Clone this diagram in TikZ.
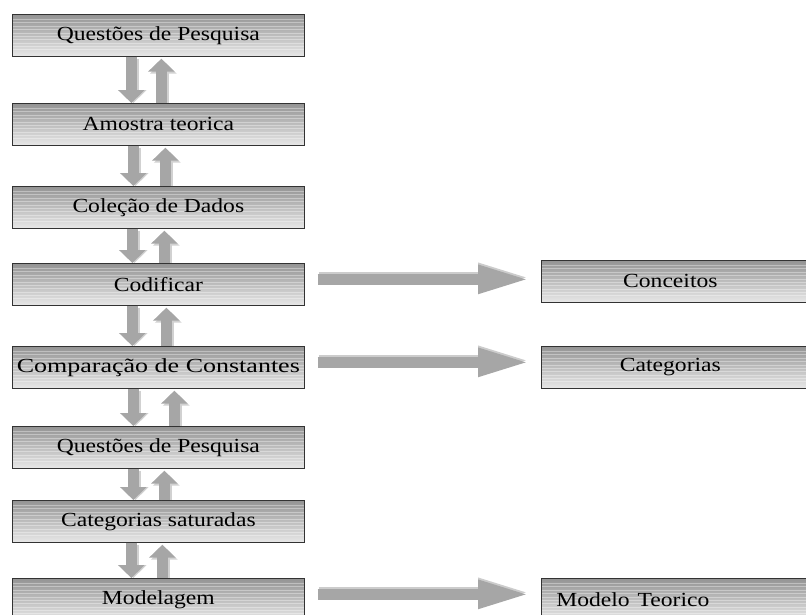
\documentclass[tikz,border=0pt]{standalone}
\usepackage{fontspec}
\setmainfont{Liberation Serif}
\usetikzlibrary{positioning,calc,arrows.meta}
\newcommand{\wtxt}[1]{\scalebox{1.18}[1]{#1}}
% pair of block arrows between two boxes of the left column
\newcommand{\updown}[4]{
  \draw[ashadow] ($(#1.south)+(#3+2,2)$) -- ($(#2.north)+(#3+2,0)$);
  \draw[varrow] ($(#1.south)+(#3,0)$) -- ($(#2.north)+(#3,0)$);
  \draw[ashadow] ($(#2.north)+(#4+2,0)$) -- ($(#1.south)+(#4+2,4)$);
  \draw[varrow] ($(#2.north)+(#4,0)$) -- ($(#1.south)+(#4,2)$);
}
% wide arrow to the right column
\newcommand{\sidearrow}[2]{
  \draw[harrow, draw=black!20, shorten <=14pt, shorten >=11pt] ($(#1.east)+(0,-7)$) -- ($(#1.east -| #2.west)+(0,-7)$);
  \draw[harrow, shorten <=13pt, shorten >=11pt] ($(#1.east)+(0,-5)$) -- ($(#1.east -| #2.west)+(0,-5)$);
}

\begin{document}
\begin{tikzpicture}[x=1pt, y=-1pt,
  box/.style={draw=black!80, line width=0.7pt, anchor=north west,
    minimum width=292pt, minimum height=42pt, inner sep=0pt,
    top color=black!42, bottom color=black!9,
    font=\fontsize{20}{24}\selectfont,
    path picture={
      \foreach \k in {0.12,0.2,...,0.9}
        \draw[white, opacity=0.35, line width=0.6pt]
          ($(path picture bounding box.north west)!\k!(path picture bounding box.south west)$) -- ++(400,0);
    }},
  rbox/.style={box, minimum width=300pt, text width=300pt, align=left},
  varrow/.style={line width=11pt, draw=black!35, -{Triangle[width=26pt,length=13pt]}},
  ashadow/.style={line width=11pt, draw=black!18, -{Triangle[width=26pt,length=13pt]}},
  harrow/.style={line width=11pt, draw=black!35, -{Triangle[width=26pt,length=52pt]}}]

  \useasboundingbox (0,0) rectangle (806,614);
  \clip (0,0) rectangle (806,614);

  % left column
  \node[box] (q1) at (12,14) {\wtxt{Questões de Pesquisa}};
  \node[box] (amostra) at (12,103) {\wtxt{Amostra teorica}};
  \node[box] (coleta) at (12,186) {\wtxt{Coleção de Dados}};
  \node[box] (codif) at (12,263) {\wtxt{Codificar}};
  \node[box] (comp) at (12,346) {\scalebox{1.3}[1]{Comparação de Constantes}};
  \node[box] (q2) at (12,426) {\wtxt{Questões de Pesquisa}};
  \node[box] (satur) at (12,500) {\wtxt{Categorias saturadas}};
  \node[box] (model) at (12,578) {\wtxt{Modelagem}};

  % right column
  \node[rbox] (conc) at (541,260) {\makebox[258pt]{\wtxt{Conceitos}}};
  \node[rbox] (categ) at (541,346) {\makebox[258pt]{\wtxt{Categorias}}};
  \node[rbox] (teor) at (541,578) {\hspace*{15pt}\wtxt{Modelo Teorico}};

  \updown{q1}{amostra}{-27}{3}
  \updown{amostra}{coleta}{-25}{7}
  \updown{coleta}{codif}{-26}{6}
  \updown{codif}{comp}{-26}{8}
  \updown{comp}{q2}{-25}{16}
  \updown{q2}{satur}{-25}{6}
  \updown{satur}{model}{-27}{4}

  \sidearrow{codif}{conc}
  \sidearrow{comp}{categ}
  \sidearrow{model}{teor}
\end{tikzpicture}
\end{document}
